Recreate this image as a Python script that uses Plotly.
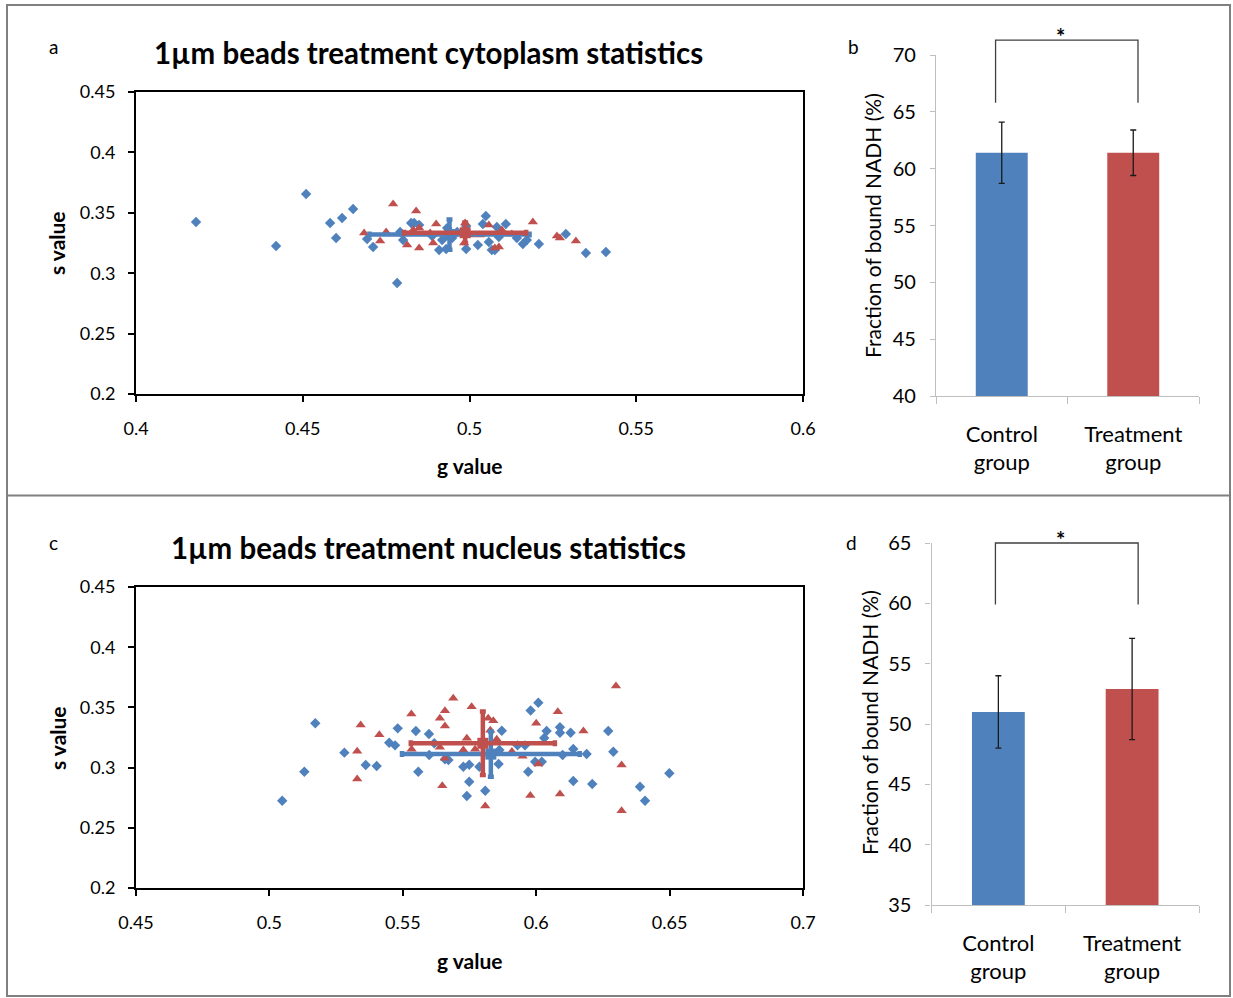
import plotly.graph_objects as go

W, H = 1233, 998
BLUE = "#4F81BD"
RED = "#C0504D"
FONT = "Lato"

# ---------------- Panel a: cytoplasm (g, s) ----------------
a_ctrl_g = [0.4180, 0.4420, 0.4510, 0.4582, 0.4600, 0.4618, 0.4651, 0.4693, 0.4711, 0.4792,
            0.4801, 0.4783, 0.4825, 0.4834, 0.4849, 0.4888, 0.4909, 0.4930, 0.4918, 0.4990,
            0.4990, 0.5025, 0.5040, 0.5049, 0.5058, 0.5067, 0.5076, 0.5082, 0.5088, 0.5109,
            0.5142, 0.5160, 0.5172, 0.5208, 0.5289, 0.5349, 0.5409, 0.4948, 0.4933, 0.4963]
a_ctrl_s = [0.3424, 0.3225, 0.3656, 0.3416, 0.3291, 0.3457, 0.3531, 0.3283, 0.3217, 0.3341,
            0.3275, 0.2919, 0.3416, 0.3416, 0.3399, 0.3308, 0.3192, 0.3200, 0.3275, 0.3391,
            0.3200, 0.3233, 0.3407, 0.3474, 0.3258, 0.3192, 0.3192, 0.3382, 0.3300, 0.3407,
            0.3291, 0.3242, 0.3275, 0.3242, 0.3325, 0.3167, 0.3175, 0.3291, 0.3374, 0.3341]
a_trt_g = [0.4684, 0.4732, 0.4750, 0.4771, 0.4813, 0.4831, 0.4840, 0.4849, 0.4849, 0.4891,
           0.4900, 0.4984, 0.4987, 0.5001, 0.5058, 0.5076, 0.5088, 0.5097, 0.5190, 0.5262,
           0.5271, 0.5319, 0.4882, 0.5031, 0.5127]
a_trt_s = [0.3333, 0.3267, 0.3341, 0.3573, 0.3233, 0.3358, 0.3515, 0.3374, 0.3209, 0.3250,
           0.3407, 0.3250, 0.3416, 0.3316, 0.3399, 0.3209, 0.3217, 0.3358, 0.3424, 0.3308,
           0.3291, 0.3267, 0.3333, 0.3316, 0.3325]
a_mean_g = [0.4940, 0.4987]
a_mean_s = [0.3320, 0.3335]
a_err_g = [0.0240, 0.0183]
a_err_s = [0.0125, 0.0085]

# ---------------- Panel c: nucleus (g, s) ----------------
c_ctrl_g = [0.5172, 0.5281, 0.5131, 0.5048, 0.5361, 0.5402, 0.5481, 0.5449, 0.5471, 0.5549,
            0.5598, 0.5558, 0.5599, 0.5618, 0.5671, 0.5658, 0.5727, 0.5749, 0.5787, 0.5862,
            0.5859, 0.5871, 0.5749, 0.5740, 0.5809, 0.5930, 0.5958, 0.5970, 0.5979, 0.6008,
            0.6039, 0.6030, 0.6089, 0.6089, 0.6129, 0.6270, 0.6139, 0.6189, 0.6099, 0.6289,
            0.5996, 0.6021, 0.6139, 0.6210, 0.6389, 0.6408, 0.6499]
c_ctrl_s = [0.3368, 0.3124, 0.2966, 0.2725, 0.3022, 0.3013, 0.3326, 0.3207, 0.3185, 0.3304,
            0.3279, 0.2966, 0.3105, 0.3202, 0.3063, 0.3069, 0.3007, 0.3024, 0.3007, 0.3146,
            0.3030, 0.3306, 0.2883, 0.2764, 0.2808, 0.3185, 0.3185, 0.2966, 0.3474, 0.3539,
            0.3304, 0.3246, 0.3335, 0.3290, 0.3290, 0.3304, 0.3154, 0.3113, 0.3105, 0.3132,
            0.3049, 0.3049, 0.2889, 0.2864, 0.2841, 0.2725, 0.2953]
c_trt_g = [0.5342, 0.5412, 0.5329, 0.5329, 0.5532, 0.5658, 0.5639, 0.5658, 0.5648, 0.5533,
           0.5639, 0.5658, 0.5689, 0.5758, 0.5820, 0.5839, 0.5828, 0.5852, 0.5740, 0.5727,
           0.5771, 0.5909, 0.5949, 0.6081, 0.6000, 0.6177, 0.6299, 0.6320, 0.6008, 0.5809,
           0.5978, 0.6089, 0.6320]
c_trt_s = [0.3354, 0.3273, 0.3135, 0.2905, 0.3445, 0.3473, 0.3410, 0.3346, 0.2850, 0.3152,
           0.3169, 0.3077, 0.3576, 0.3506, 0.3410, 0.3390, 0.3310, 0.3235, 0.3243, 0.3146,
           0.3152, 0.3134, 0.3094, 0.3464, 0.3368, 0.3304, 0.3678, 0.3022, 0.3030, 0.2681,
           0.2768, 0.2781, 0.2642]
c_mean_g = [0.5830, 0.5800]
c_mean_s = [0.3112, 0.3202]
c_err_g = [0.0333, 0.0270]
c_err_s = [0.0187, 0.0263]

# ---------------- Panels b, d: bound NADH fraction ----------------
groups = ["Control<br>group", "Treatment<br>group"]
b_vals = [61.4, 61.4]
b_err = [2.7, 2.0]
d_vals = [51.0, 52.9]
d_err = [3.0, 4.2]

# tick labels
a_xticks = [0.4, 0.45, 0.5, 0.55, 0.6]
a_xtext = ["0.4", "0.45", "0.5", "0.55", "0.6"]
c_xticks = [0.45, 0.5, 0.55, 0.6, 0.65, 0.7]
c_xtext = ["0.45", "0.5", "0.55", "0.6", "0.65", "0.7"]
s_ticks = [0.2, 0.25, 0.3, 0.35, 0.4, 0.45]
s_text = ["0.2", "0.25", "0.3", "0.35", "0.4", "0.45"]
b_yticks = [40, 45, 50, 55, 60, 65, 70]
d_yticks = [35, 40, 45, 50, 55, 60, 65]

# ---------------- layout geometry (pixels -> paper) ----------------
def px(x):
    return x / W

def py(y):
    return 1 - y / H

dom_a_x = [px(136), px(803)]
dom_a_y = [py(394), py(92)]
dom_c_x = [px(136), px(803)]
dom_c_y = [py(888), py(587)]
dom_b_x = [px(936), px(1199)]
dom_b_y = [py(396), py(55)]
dom_d_x = [px(931.5), px(1199)]
dom_d_y = [py(905), py(543)]

fig = go.Figure()


def scatter_panel(xa, ya, cg, cs, tg, ts, mg, ms, eg, es):
    fig.add_trace(go.Scatter(x=cg, y=cs, mode="markers", xaxis=xa, yaxis=ya,
                             marker=dict(symbol="diamond", size=8, color=BLUE)))
    fig.add_trace(go.Scatter(x=tg, y=ts, mode="markers", xaxis=xa, yaxis=ya,
                             marker=dict(symbol="triangle-up", size=9, color=RED)))
    for i, col in enumerate([BLUE, RED]):
        fig.add_trace(go.Scatter(
            x=[mg[i]], y=[ms[i]], mode="markers", xaxis=xa, yaxis=ya,
            marker=dict(symbol="square", size=11, color=col),
            error_x=dict(type="data", array=[eg[i]], color=col, thickness=4.5, width=3),
            error_y=dict(type="data", array=[es[i]], color=col, thickness=4.5, width=3)))


scatter_panel("x", "y", a_ctrl_g, a_ctrl_s, a_trt_g, a_trt_s, a_mean_g, a_mean_s, a_err_g, a_err_s)
scatter_panel("x3", "y3", c_ctrl_g, c_ctrl_s, c_trt_g, c_trt_s, c_mean_g, c_mean_s, c_err_g, c_err_s)

for xa, ya, vals, errs in [("x2", "y2", b_vals, b_err), ("x4", "y4", d_vals, d_err)]:
    fig.add_trace(go.Bar(x=[0, 1], y=vals, xaxis=xa, yaxis=ya, width=0.395,
                         marker=dict(color=[BLUE, RED], line=dict(width=0)),
                         error_y=dict(type="data", array=errs, color="#1a1a1a",
                                      thickness=1.3, width=3)))

tick_font = dict(family=FONT, size=18, color="black")
bar_font = dict(family=FONT, size=20, color="black")


def sc_x(dom, rng, tv, tt, anchor):
    return dict(domain=dom, range=rng, anchor=anchor, tickvals=tv, ticktext=tt,
                showline=True, linecolor="black", linewidth=2, mirror=True,
                ticks="outside", ticklen=6, tickwidth=2, tickcolor="black",
                showgrid=False, zeroline=False, automargin=False,
                tickfont=tick_font, ticklabelstandoff=11)


def sc_y(dom, rng, tv, tt, anchor):
    return dict(domain=dom, range=rng, anchor=anchor, tickvals=tv, ticktext=tt,
                showline=True, linecolor="black", linewidth=2, mirror=True,
                ticks="outside", ticklen=6, tickwidth=2, tickcolor="black",
                showgrid=False, zeroline=False, automargin=False,
                tickfont=tick_font, ticklabelstandoff=9)


def bar_x(dom, anchor):
    return dict(domain=dom, range=[-0.5, 1.5], anchor=anchor, tickvals=[0, 1],
                ticktext=groups, ticks="", showline=True, linecolor="#bfbfbf",
                linewidth=1.2, showgrid=False, zeroline=False, automargin=False,
                tickfont=dict(family=FONT, size=22, color="black"), ticklabelstandoff=18,
                minor=dict(tickvals=[-0.5, 0.5, 1.5], ticks="outside", ticklen=7,
                           tickcolor="#bfbfbf", tickwidth=1.2))


def bar_y(dom, rng, tv, anchor):
    return dict(domain=dom, range=rng, anchor=anchor, tickvals=tv, showline=True,
                linecolor="#bfbfbf", linewidth=1.2, ticks="outside", ticklen=5,
                tickcolor="#bfbfbf", tickwidth=1.2, showgrid=False, zeroline=False,
                automargin=False, tickfont=bar_font, ticklabelstandoff=10)


fig.update_layout(
    width=W, height=H, margin=dict(l=0, r=0, t=0, b=0, pad=0, autoexpand=False),
    paper_bgcolor="white", plot_bgcolor="white", showlegend=False,
    font=dict(family=FONT, color="black"),
    xaxis=sc_x(dom_a_x, [0.4, 0.6], a_xticks, a_xtext, "y"),
    yaxis=sc_y(dom_a_y, [0.2, 0.45], s_ticks, s_text, "x"),
    xaxis3=sc_x(dom_c_x, [0.45, 0.7], c_xticks, c_xtext, "y3"),
    yaxis3=sc_y(dom_c_y, [0.2, 0.45], s_ticks, s_text, "x3"),
    xaxis2=bar_x(dom_b_x, "y2"),
    yaxis2=bar_y(dom_b_y, [40, 70], b_yticks, "x2"),
    xaxis4=bar_x(dom_d_x, "y4"),
    yaxis4=bar_y(dom_d_y, [35, 65], d_yticks, "x4"),
)


def to_paper(v, dom, rng):
    return dom[0] + (v - rng[0]) / (rng[1] - rng[0]) * (dom[1] - dom[0])


shapes = []
annotations = []

# significance brackets
for dx, dy, yr, xl, xr, yb, yt in [
    (dom_b_x, dom_b_y, [40, 70], -0.047, 1.036, 65.8, 71.3),
    (dom_d_x, dom_d_y, [35, 65], -0.022, 1.045, 59.9, 65.0),
]:
    X0 = to_paper(xl, dx, [-0.5, 1.5])
    X1 = to_paper(xr, dx, [-0.5, 1.5])
    Y0 = to_paper(yb, dy, yr)
    Y1 = to_paper(yt, dy, yr)
    shapes.append(dict(type="path", xref="paper", yref="paper",
                       path=f"M {X0},{Y0} L {X0},{Y1} L {X1},{Y1} L {X1},{Y0}",
                       line=dict(color="#404040", width=1.3)))
    annotations.append(dict(text="<b>*</b>", x=(X0 + X1) / 2, y=Y1, xref="paper",
                            yref="paper", showarrow=False, yanchor="bottom", yshift=-12,
                            font=dict(family=FONT, size=22, color="black")))

# outer frame and separator
shapes.append(dict(type="rect", xref="paper", yref="paper", x0=px(7), x1=px(1230),
                   y0=py(996), y1=py(5), line=dict(color="#808080", width=2)))
shapes.append(dict(type="line", xref="paper", yref="paper", x0=px(7), x1=px(1230),
                   y0=py(495.5), y1=py(495.5), line=dict(color="#808080", width=2)))

def ann(text, x, y, size, bold=False, angle=0):
    annotations.append(dict(text=f"<b>{text}</b>" if bold else text, x=px(x), y=py(y),
                            xref="paper", yref="paper", showarrow=False,
                            xanchor="center", yanchor="middle", textangle=angle,
                            font=dict(family=FONT, size=size, color="black")))

ann("1µm beads treatment cytoplasm statistics", 428, 52, 29.5, bold=True)
ann("1µm beads treatment nucleus statistics", 428, 547, 29.5, bold=True)
ann("a", 53, 47, 19)
ann("b", 853, 47, 19)
ann("c", 53, 542, 19)
ann("d", 851, 542, 19)
ann("s value", 57, 243, 21, bold=True, angle=-90)
ann("s value", 57, 738, 21, bold=True, angle=-90)
ann("g value", 469, 465, 21, bold=True)
ann("g value", 469, 960, 21, bold=True)
ann("Fraction of bound NADH (%)", 872, 226, 21, angle=-90)
ann("Fraction of bound NADH (%)", 869, 723, 21, angle=-90)

fig.update_layout(shapes=shapes, annotations=annotations)
fig.write_html("out.html")
